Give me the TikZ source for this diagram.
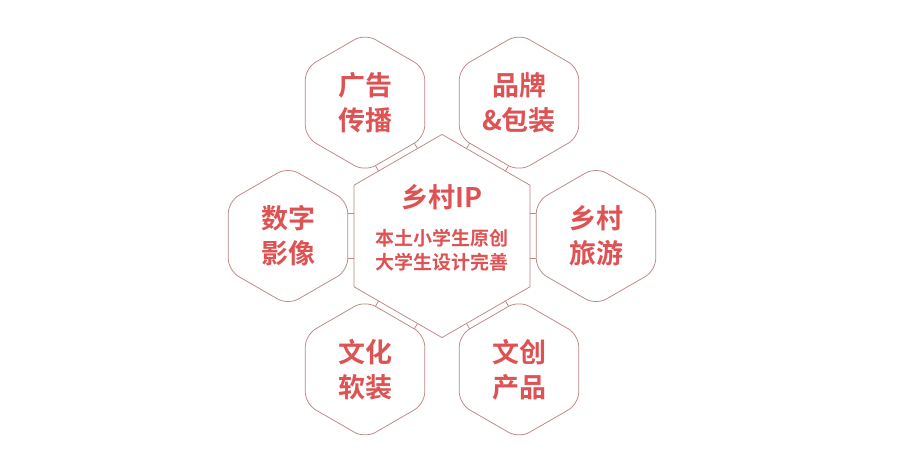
\documentclass[tikz,border=0pt]{standalone}
\usepackage{fontspec}
\newfontfamily\cjk{Noto Sans CJK SC}[BoldFont={Noto Sans CJK SC Bold}]
\usetikzlibrary{calc}
\definecolor{txtred}{HTML}{DE5254}
\definecolor{hexline}{HTML}{BF8585}
\tikzset{
  hexline/.style={draw=hexline, line width=0.75pt, line join=round},
  outerhex/.style={hexline, rounded corners=12pt},
  stub/.style={draw=hexline, line width=0.75pt},
  outertext/.style={text=txtred, align=center, inner sep=0pt,
    font=\cjk\bfseries\fontsize{27}{35}\selectfont},
  titletext/.style={text=txtred, inner sep=0pt,
    font=\cjk\bfseries\fontsize{27}{32}\selectfont},
  subtext/.style={text=txtred, align=center, inner sep=0pt,
    font=\cjk\bfseries\fontsize{19}{24.5}\selectfont},
}
\begin{document}
\begin{tikzpicture}[x=1pt,y=-1pt]
\useasboundingbox (0,0) rectangle (916,458);
\fill[white] (0,0) rectangle (916,458);
\def\dist{154}
\def\Rc{101.6}
\def\Ro{69}
\def\ac{88}
\def\ao{59.8}
\coordinate (C) at (442,236);
% central hexagon
\draw[hexline] ($(C)+(30:\Rc)$) -- ($(C)+(90:\Rc)$) -- ($(C)+(150:\Rc)$)
  -- ($(C)+(210:\Rc)$) -- ($(C)+(270:\Rc)$) -- ($(C)+(330:\Rc)$) -- cycle;
% outer hexagons and stubs
\foreach \a/\nm in {0/right,60/downright,120/downleft,180/left,240/upleft,300/upright}{
  \coordinate (\nm) at ($(C)+(\a:\dist)$);
  \draw[outerhex] ($(\nm)+(0:\ao)$) -- ($(\nm)+(30:\Ro)$) -- ($(\nm)+(90:\Ro)$)
    -- ($(\nm)+(150:\Ro)$) -- ($(\nm)+(210:\Ro)$) -- ($(\nm)+(270:\Ro)$)
    -- ($(\nm)+(330:\Ro)$) -- cycle;
  \coordinate (\nm-a1) at ($(C)+(\a:\ac)+(\a+90:22.5)$);
  \coordinate (\nm-b1) at ($(\nm)+(\a+180:\ao)+(\a+90:22.5)$);
  \coordinate (\nm-a2) at ($(C)+(\a:\ac)+(\a-90:22.5)$);
  \coordinate (\nm-b2) at ($(\nm)+(\a+180:\ao)+(\a-90:22.5)$);
  \draw[stub] (\nm-a1) -- (\nm-b1);
  \draw[stub] (\nm-a2) -- (\nm-b2);
}
% texts
\node[titletext] (title) at ($(C)+(0,-39)$) {乡村IP};
\node[subtext] (sub) at ($(C)+(0,14)$) {本土小学生原创\\大学生设计完善};
\node[outertext] (t-ul) at (upleft) {广告\\传播};
\node[outertext] (t-ur) at (upright) {品牌\\\&包装};
\node[outertext] (t-l) at (left) {数字\\影像};
\node[outertext] (t-r) at (right) {乡村\\旅游};
\node[outertext] (t-dl) at (downleft) {文化\\软装};
\node[outertext] (t-dr) at (downright) {文创\\产品};
\end{tikzpicture}
\end{document}
